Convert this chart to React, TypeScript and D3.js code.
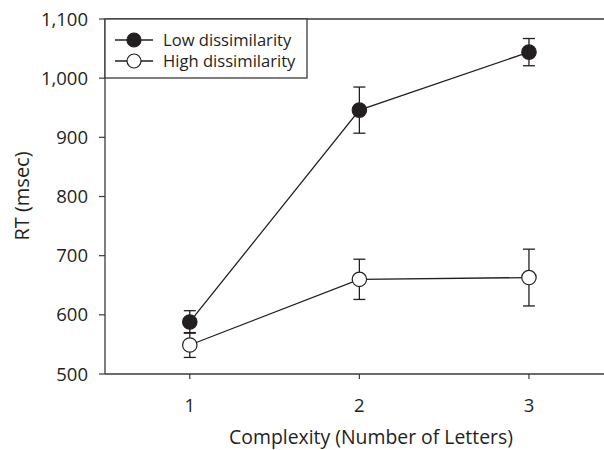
import React from "react";
import * as d3 from "d3";

const complexity = [1, 2, 3];
const lowMean = [588, 946, 1044];
const lowErr = [19, 39, 23];
const highMean = [549, 660, 663];
const highErr = [21, 34, 48];
const yTicks = [500, 600, 700, 800, 900, 1000, 1100];
const seriesNames = ["Low dissimilarity", "High dissimilarity"];

const W = 604;
const H = 450;
const left = 105;
const top = 19;
const bottom = 374;
const ink = "#231f20";
const axisInk = "#3a3a3a";
const font = "'Open Sans', sans-serif";

export default function App() {
  const x = d3.scaleLinear().domain([0.5, 3.5]).range([left, 613.75]);
  const y = d3.scaleLinear().domain([500, 1100]).range([bottom, top]);
  const line = d3
    .line<[number, number]>()
    .x((d) => x(d[0]))
    .y((d) => y(d[1]));

  const series = [
    { name: seriesNames[0], mean: lowMean, err: lowErr, fill: ink },
    { name: seriesNames[1], mean: highMean, err: highErr, fill: "#ffffff" },
  ];

  return (
    <svg
      width={W}
      height={H}
      style={{ position: "absolute", left: 0, top: 0 }}
      fontFamily={font}
    >
      <rect width={W} height={H} fill="#fff" />
      {/* axes frame */}
      <line x1={left} x2={W} y1={top} y2={top} stroke={axisInk} strokeWidth={1.3} />
      <line x1={left} x2={W} y1={bottom} y2={bottom} stroke={axisInk} strokeWidth={1.3} />
      <line x1={left} x2={left} y1={top} y2={bottom} stroke={axisInk} strokeWidth={1.3} />
      {yTicks.map((t) => (
        <g key={t}>
          <line x1={left - 6} x2={left} y1={y(t)} y2={y(t)} stroke={axisInk} strokeWidth={1.2} />
          <text
            x={88}
            y={y(t)}
            dy="0.36em"
            textAnchor="end"
            fontSize={18.5}
            fill={ink}
          >
            {d3.format(",")(t)}
          </text>
        </g>
      ))}
      {complexity.map((c) => (
        <g key={c}>
          <line x1={x(c)} x2={x(c)} y1={bottom} y2={bottom + 5} stroke={axisInk} strokeWidth={1.2} />
          <text x={x(c)} y={405} dy="0.36em" textAnchor="middle" fontSize={18.5} fill={ink}>
            {c}
          </text>
        </g>
      ))}
      <text x={371} y={437} dy="0.36em" textAnchor="middle" fontSize={19.4} fill={ink}>
        Complexity (Number of Letters)
      </text>
      <text
        transform={`translate(22,196) rotate(-90)`}
        dy="0.36em"
        textAnchor="middle"
        fontSize={20}
        fill={ink}
      >
        RT (msec)
      </text>

      {/* series lines, error bars, markers */}
      {series.map((s) => (
        <g key={s.name}>
          <path
            d={line(complexity.map((c, i) => [c, s.mean[i]]) as [number, number][]) || ""}
            fill="none"
            stroke={ink}
            strokeWidth={1.3}
          />
          {complexity.map((c, i) => (
            <g key={c}>
              <line
                x1={x(c)}
                x2={x(c)}
                y1={y(s.mean[i] - s.err[i])}
                y2={y(s.mean[i] + s.err[i])}
                stroke={ink}
                strokeWidth={1.3}
              />
              <line
                x1={x(c) - 6}
                x2={x(c) + 6}
                y1={y(s.mean[i] + s.err[i])}
                y2={y(s.mean[i] + s.err[i])}
                stroke={ink}
                strokeWidth={1.3}
              />
              <line
                x1={x(c) - 6}
                x2={x(c) + 6}
                y1={y(s.mean[i] - s.err[i])}
                y2={y(s.mean[i] - s.err[i])}
                stroke={ink}
                strokeWidth={1.3}
              />
            </g>
          ))}
          {complexity.map((c, i) => (
            <circle
              key={c}
              cx={x(c)}
              cy={y(s.mean[i])}
              r={7.2}
              fill={s.fill}
              stroke={ink}
              strokeWidth={1.2}
            />
          ))}
        </g>
      ))}

      {/* legend */}
      <rect x={left} y={top} width={202} height={59} fill="#fff" stroke={axisInk} strokeWidth={1.3} />
      {series.map((s, i) => (
        <g key={s.name}>
          <line x1={115} x2={153} y1={40 + i * 21} y2={40 + i * 21} stroke={ink} strokeWidth={1.3} />
          <circle cx={134} cy={40 + i * 21} r={7} fill={s.fill} stroke={ink} strokeWidth={1.2} />
          <text x={163} y={40 + i * 21} dy="0.36em" fontSize={16.6} fill={ink}>
            {s.name}
          </text>
        </g>
      ))}
    </svg>
  );
}
